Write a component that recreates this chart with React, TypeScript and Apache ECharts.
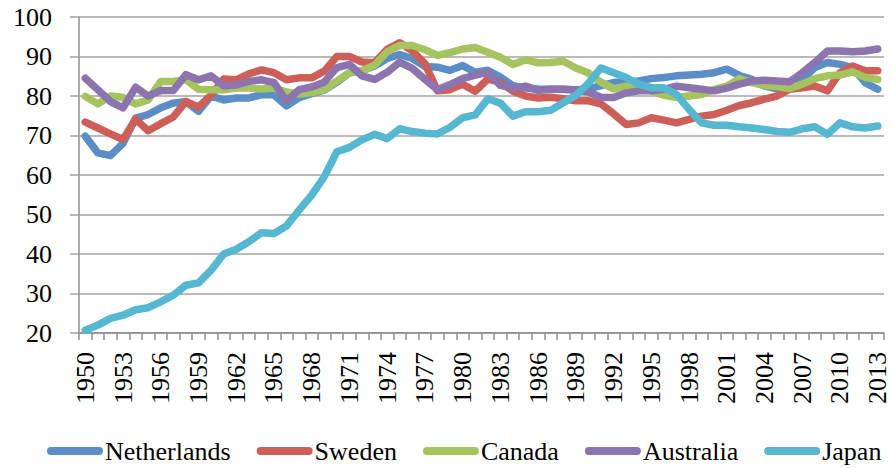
import React, { useEffect, useRef } from "react";
import * as echarts from "echarts";

const years: string[] = Array.from({ length: 64 }, (_, i) => String(1950 + i));

const netherlands = [
  69.8, 65.6, 64.9, 68, 74.4, 75.3, 77, 78.2, 78.6, 76.1,
  80, 79, 79.5, 79.5, 80.3, 80.3, 77.5, 79.6, 80.6, 81.5,
  83.5, 85.9, 86.4, 87.6, 89.5, 90.5, 89.5, 87.5, 87.3, 86.5,
  87.7, 86, 86.5, 84.8, 82.6, 82, 81.8, 81.7, 81.7, 81.6,
  81.8, 82.6, 83.4, 83.6, 83.8, 84.4, 84.7, 85.1, 85.3, 85.5,
  85.9, 86.8, 85.2, 84.2, 82.5, 81.8, 81.8, 84.2, 87.2, 88.5,
  88, 87.2, 83.4, 81.7,
];

const sweden = [
  73.4, 71.9, 70.4, 69, 74.1, 71.2, 73, 74.7, 78.6, 77.2,
  80.2, 84.3, 84.1, 85.6, 86.6, 85.9, 84.1, 84.6, 84.6, 86.3,
  90, 90, 88.6, 88.4, 91.8, 93.5, 91.4, 88.2, 81.3, 81.6,
  83, 81.2, 84.3, 83.5, 81.2, 80, 79.5, 79.7, 79.3, 78.8,
  78.8, 78, 75.5, 72.8, 73.2, 74.5, 73.9, 73.2, 74.1, 74.9,
  75.3, 76.4, 77.6, 78.3, 79.2, 80, 81.7, 82.1, 82.5, 81.3,
  85.9, 87.6, 86.4, 86.4,
];

const canada = [
  79.9, 78, 80, 79.6, 78, 79, 83.7, 83.7, 84.1, 81.7,
  81.6, 81.6, 82, 82, 81.8, 82, 81, 80.5, 80.8, 81.6,
  83.8, 85.9, 86.4, 87.8, 91.2, 92.8, 92.8, 91.7, 90.3, 91,
  91.9, 92.3, 91.1, 89.8, 88, 89.2, 88.4, 88.5, 88.8, 87.1,
  85.8, 83.5, 81.8, 82.5, 82.5, 81.3, 80.2, 79.6, 80, 80.4,
  81.7, 82.5, 84.4, 83.4, 82.6, 82.4, 81.9, 83, 84.4, 85.1,
  85.3, 86.1, 84.7, 84.2,
];

const australia = [
  84.5, 81.6, 78.6, 77, 82.2, 80, 81.4, 81.4, 85.4, 84.1,
  85.1, 82.6, 82.8, 83.7, 84.1, 83.4, 78.7, 81.6, 82.3, 83.5,
  87.2, 88, 85.1, 84.2, 86, 88.6, 87, 84.2, 81.6, 82.9,
  84.4, 85.3, 86, 82.7, 82, 82.5, 81.4, 81.7, 81.7, 81.5,
  81, 79.7, 79.6, 80.8, 81.3, 81.3, 81.7, 82.5, 82.1, 81.7,
  81.3, 82, 83, 83.8, 84, 83.8, 83.6, 85.9, 88.5, 91.4,
  91.4, 91.2, 91.4, 91.9,
];

const japan = [
  20.7, 22, 23.7, 24.5, 25.9, 26.4, 27.9, 29.6, 32.1, 32.7,
  35.9, 40, 41.2, 43.1, 45.4, 45.2, 47.1, 51.1, 54.9, 59.6,
  65.9, 67, 68.9, 70.3, 69.2, 71.7, 71, 70.6, 70.4, 72.1,
  74.5, 75.2, 79.3, 78.2, 74.9, 76, 76, 76.4, 78.3, 80.2,
  83.2, 87.1, 85.9, 84.7, 83, 82.1, 82.1, 80.4, 76.6, 73.2,
  72.6, 72.6, 72.2, 71.9, 71.5, 71, 70.8, 71.7, 72.2, 70.3,
  73.2, 72.2, 71.9, 72.4,
];

const seriesNames = ["Netherlands", "Sweden", "Canada", "Australia", "Japan"];
const seriesData = [netherlands, sweden, canada, australia, japan];
const colors = ["#5B8EC6", "#CE5F58", "#A5C35F", "#8C74AE", "#55B8D0"];

const FONT = "'Liberation Serif', 'Times New Roman', serif";
const GRID_COLOR = "#A3A3A3";
const AXIS_COLOR = "#8E8E8E";

export default function App() {
  const ref = useRef<HTMLDivElement>(null);

  useEffect(() => {
    document.body.style.margin = "0";
    if (!ref.current) return;
    const chart = echarts.init(ref.current, null, { renderer: "svg" });
    chart.setOption({
      animation: false,
      color: colors,
      textStyle: { fontFamily: FONT },
      grid: { left: 79, right: 9, top: 17, bottom: 135, containLabel: false },
      legend: {
        bottom: 4,
        left: 47,
        padding: 0,
        itemGap: 26,
        itemWidth: 56,
        itemHeight: 8,
        icon: "path://M4 0H52A4 4 0 0 1 52 8H4A4 4 0 0 1 4 0Z",
        textStyle: { fontFamily: FONT, fontSize: 26, color: "#000", padding: [0, 0, 0, -3] },
        data: seriesNames,
      },
      xAxis: {
        type: "category",
        data: years,
        boundaryGap: true,
        axisLine: { show: true, lineStyle: { color: AXIS_COLOR, width: 1.5 } },
        axisTick: { show: true, interval: 0, length: 7, lineStyle: { color: AXIS_COLOR, width: 1.5 } },
        axisLabel: {
          interval: 2,
          rotate: 90,
          margin: 19,
          fontFamily: FONT,
          fontSize: 26,
          color: "#000",
        },
        splitLine: { show: false },
      },
      yAxis: {
        type: "value",
        min: 20,
        max: 100,
        interval: 10,
        axisLine: { show: true, lineStyle: { color: AXIS_COLOR, width: 1.5 } },
        axisTick: { show: true, length: 9, lineStyle: { color: GRID_COLOR, width: 1.5 } },
        axisLabel: { margin: 27, fontFamily: FONT, fontSize: 26, color: "#000" },
        splitLine: { show: true, lineStyle: { color: GRID_COLOR, width: 1.5 } },
      },
      series: seriesNames.map((name, i) => ({
        name,
        type: "line",
        data: seriesData[i],
        symbol: "none",
        smooth: false,
        lineStyle: { width: 7.5, color: colors[i], cap: "round", join: "round" },
        itemStyle: { color: colors[i] },
      })),
    });
    return () => chart.dispose();
  }, []);

  return <div ref={ref} style={{ width: 893, height: 468 }} />;
}
